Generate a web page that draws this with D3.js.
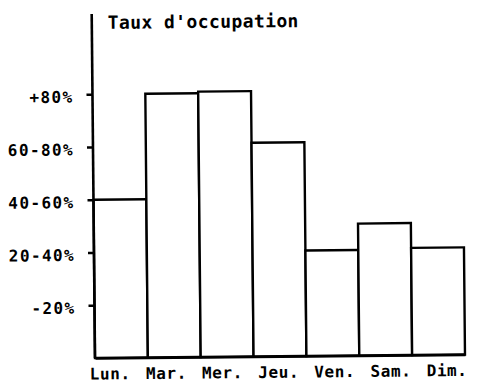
<!DOCTYPE html>
<html>
<head>
<meta charset="utf-8">
<script src="https://cdn.jsdelivr.net/npm/d3@7/dist/d3.min.js"></script>
<style>
  html, body { margin: 0; padding: 0; background: #fff; }
  svg { display: block; }
  text { font-family: "DejaVu Sans Mono", "Liberation Mono", monospace; font-weight: bold; fill: #000; }
</style>
</head>
<body>
<svg id="chart" width="481" height="388"></svg>
<script>
// Jours de la semaine
const days = ["Lun.", "Mar.", "Mer.", "Jeu.", "Ven.", "Sam.", "Dim."];
// Niveau d'occupation (1 = -20%, 2 = 20-40%, 3 = 40-60%, 4 = 60-80%, 5 = +80%)
const occupancy = [3.0, 5.0, 5.03, 4.05, 2.0, 2.5, 2.03];
// Graduations de l'axe vertical
const levelTicks = [1, 2, 3, 4, 5];
const levelLabels = ["-20%", "20-40%", "40-60%", "60-80%", "+80%"];
const title = "Taux d'occupation";

const svg = d3.select("#chart");
const plotW = 370, plotH = 344;

// Origin at the bottom-left corner of the plot, slightly tilted like a printed sheet
const g = svg.append("g").attr("transform", "translate(95,358) rotate(-0.55)");

const x = d3.scaleBand().domain(days).range([0, plotW]).padding(0);
// Day names are typed on a slightly wider pitch than the bars
const xLabel = d3.scaleBand().domain(days).range([-13, 380]).padding(0);
const y = d3.scaleLinear().domain([0, 6.52]).range([0, -plotH]);

// Bars
g.selectAll("rect.bar")
  .data(days.map((d, i) => ({ day: d, v: occupancy[i] })))
  .join("rect")
  .attr("class", "bar")
  .attr("x", d => x(d.day))
  .attr("width", x.bandwidth())
  .attr("y", d => y(d.v))
  .attr("height", d => -y(d.v))
  .attr("fill", "#fff")
  .attr("stroke", "#000")
  .attr("stroke-width", 2.4);

// Vertical axis with level labels
const yAxis = d3.axisLeft(y)
  .tickValues(levelTicks)
  .tickFormat((d, i) => levelLabels[i])
  .tickSize(6)
  .tickPadding(13);

const ya = g.append("g").call(yAxis);
ya.select(".domain").remove();
ya.selectAll(".tick line").attr("stroke", "#000").attr("stroke-width", 2.4);
ya.selectAll(".tick text")
  .attr("font-size", 16)
  .attr("letter-spacing", 1.4)
  .attr("dy", "0.48em")
  .style("font-family", "'DejaVu Sans Mono', monospace")
  .style("font-weight", "bold");

g.append("line")
  .attr("x1", 0).attr("x2", 0)
  .attr("y1", 0).attr("y2", y(6.52))
  .attr("stroke", "#000").attr("stroke-width", 2.6);

// Baseline
const xa = g.append("g").call(d3.axisBottom(x).tickSize(0).tickFormat(""));
xa.select(".domain").attr("stroke", "#000").attr("stroke-width", 2.6);

// Day labels
const xl = g.append("g").call(d3.axisBottom(xLabel).tickSize(0).tickPadding(0));
xl.select(".domain").remove();
xl.selectAll(".tick text")
  .attr("font-size", 16)
  .attr("letter-spacing", 0.6)
  .attr("y", 21.5)
  .attr("dy", 0)
  .style("font-family", "'DejaVu Sans Mono', monospace")
  .style("font-weight", "bold");

// Title
g.append("text")
  .attr("x", 16)
  .attr("y", -329)
  .attr("font-size", 18)
  .attr("letter-spacing", 0.4)
  .text(title);
</script>
</body>
</html>
